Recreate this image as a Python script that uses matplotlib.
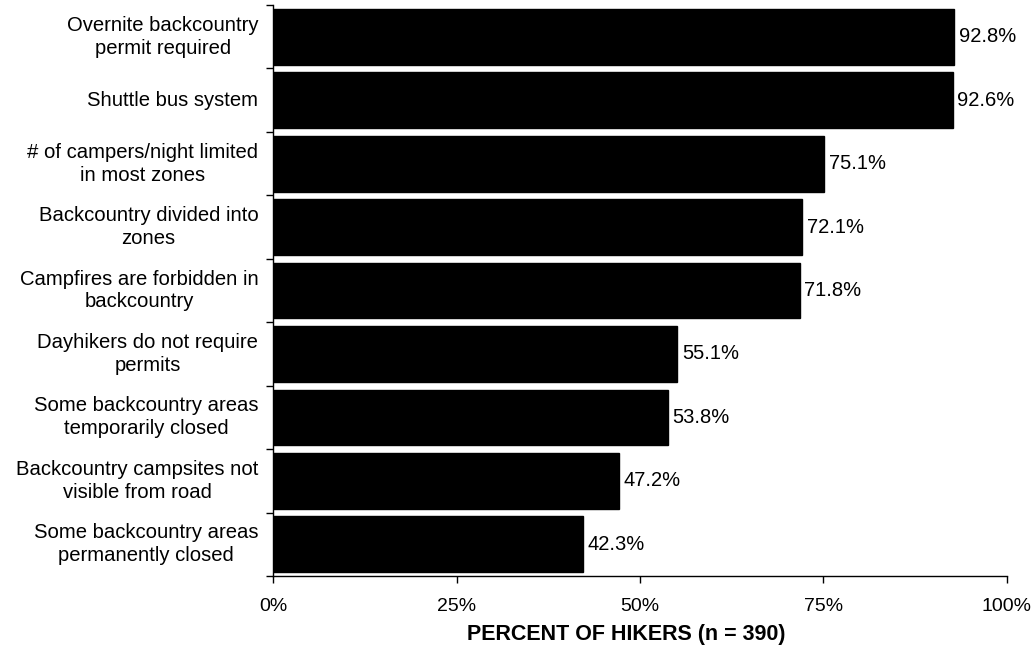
import matplotlib
matplotlib.use("Agg")
import matplotlib.pyplot as plt
import numpy as np

categories = [
    "Overnite backcountry\npermit required",
    "Shuttle bus system",
    "# of campers/night limited\nin most zones",
    "Backcountry divided into\nzones",
    "Campfires are forbidden in\nbackcountry",
    "Dayhikers do not require\npermits",
    "Some backcountry areas\ntemporarily closed",
    "Backcountry campsites not\nvisible from road",
    "Some backcountry areas\npermanently closed",
]
percents = [92.8, 92.6, 75.1, 72.1, 71.8, 55.1, 53.8, 47.2, 42.3]
xticks = [0, 25, 50, 75, 100]
xlabel = "PERCENT OF HIKERS (n = 390)"

plt.rcParams["font.family"] = ["Liberation Sans", "DejaVu Sans"]

fig = plt.figure(figsize=(10.33, 6.47), dpi=100)
ax = fig.add_axes([0.2643, 0.1097, 0.7105, 0.8825])

n = len(categories)
y = np.arange(n)
ax.barh(y, percents, height=0.88, color="black", edgecolor="black")
ax.set_xlim(0, 100)
ax.set_ylim(n - 0.5, -0.5)

for yi, v in zip(y, percents):
    ax.text(v + 0.6, yi, f"{v:.1f}%", va="center", ha="left", fontsize=14.5)

# category labels drawn as text so lines are centred within each block
ax.set_yticks(np.arange(n + 1) - 0.5)
ax.set_yticklabels([])
ax.tick_params(axis="y", direction="out", length=5, width=1)
for yi, lab in zip(y, categories):
    ax.text(-0.02, yi, lab, transform=ax.get_yaxis_transform(),
            ha="right", va="center", multialignment="center", fontsize=14.6,
            linespacing=1.26)

ax.set_xticks(xticks)
ax.set_xticklabels([f"{t}%" for t in xticks], fontsize=14)
ax.tick_params(axis="x", direction="out", length=5, width=1, pad=11)
ax.set_xlabel(xlabel, fontsize=15.5, fontweight="bold")
ax.xaxis.set_label_coords(0.481, -0.103)
ax.xaxis.label.set_va("center")

for side in ("top", "right"):
    ax.spines[side].set_visible(False)
for side in ("left", "bottom"):
    ax.spines[side].set_linewidth(1)

fig.savefig("out.png", dpi=100)
